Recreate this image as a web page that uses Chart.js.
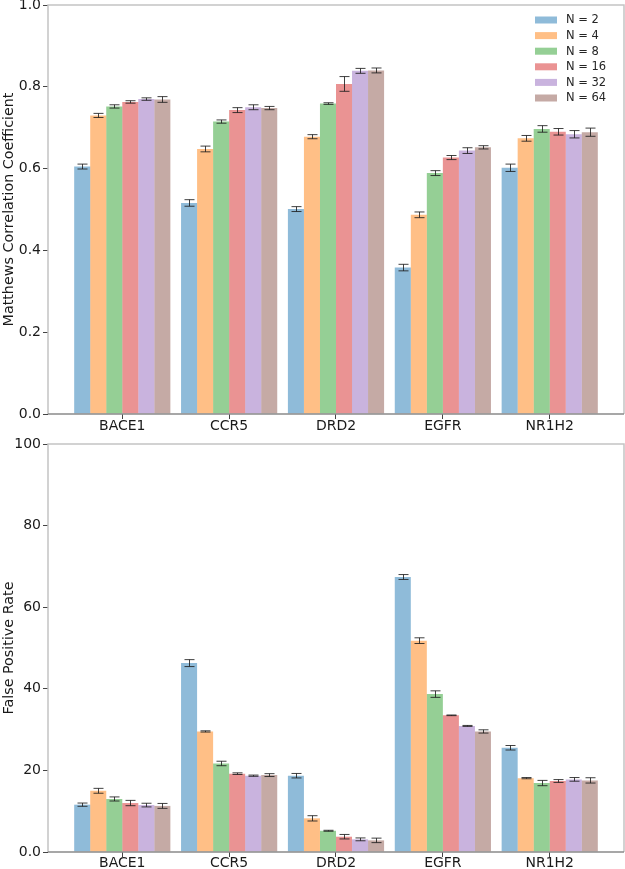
<!DOCTYPE html>
<html>
<head>
<meta charset="utf-8">
<script src="https://cdn.jsdelivr.net/npm/chart.js@4.4.1/dist/chart.umd.min.js"></script>
<style>
  html, body { margin: 0; padding: 0; background: #ffffff; }
  #wrap { position: relative; width: 625px; height: 869px; overflow: hidden; }
  #c1 { position: absolute; left: 0; top: 0; }
  #c2 { position: absolute; left: 0; top: 432px; }
</style>
</head>
<body>
<div id="wrap">
  <canvas id="c1" width="625" height="432"></canvas>
  <canvas id="c2" width="625" height="437"></canvas>
</div>
<script>
// ---------- data ----------
const categories = ['BACE1', 'CCR5', 'DRD2', 'EGFR', 'NR1H2'];
const seriesLabels = ['N = 2', 'N = 4', 'N = 8', 'N = 16', 'N = 32', 'N = 64'];

// Matthews Correlation Coefficient (means)
const mccN2  = [0.605, 0.516, 0.501, 0.358, 0.602];
const mccN4  = [0.730, 0.648, 0.678, 0.487, 0.674];
const mccN8  = [0.752, 0.715, 0.759, 0.589, 0.697];
const mccN16 = [0.763, 0.743, 0.807, 0.627, 0.690];
const mccN32 = [0.770, 0.750, 0.839, 0.644, 0.684];
const mccN64 = [0.769, 0.748, 0.840, 0.652, 0.689];
// MCC error half-widths
const mccErrN2  = [0.006, 0.008, 0.006, 0.008, 0.009];
const mccErrN4  = [0.005, 0.007, 0.005, 0.007, 0.007];
const mccErrN8  = [0.004, 0.004, 0.002, 0.006, 0.008];
const mccErrN16 = [0.003, 0.006, 0.018, 0.005, 0.008];
const mccErrN32 = [0.003, 0.006, 0.006, 0.007, 0.009];
const mccErrN64 = [0.007, 0.004, 0.006, 0.004, 0.010];

// False Positive Rate (means)
const fprN2  = [11.6, 46.3, 18.7, 67.4, 25.55];
const fprN4  = [15.0, 29.55, 8.25, 51.8, 18.1];
const fprN8  = [13.0, 21.7, 5.2, 38.7, 16.9];
const fprN16 = [12.0, 19.2, 3.75, 33.5, 17.4];
const fprN32 = [11.5, 18.7, 3.1, 30.9, 17.8];
const fprN64 = [11.3, 18.85, 2.85, 29.55, 17.55];
// FPR error half-widths
const fprErrN2  = [0.4, 0.85, 0.55, 0.6, 0.55];
const fprErrN4  = [0.6, 0.15, 0.65, 0.7, 0.15];
const fprErrN8  = [0.5, 0.55, 0.12, 0.8, 0.65];
const fprErrN16 = [0.65, 0.2, 0.55, 0.08, 0.35];
const fprErrN32 = [0.45, 0.15, 0.35, 0.12, 0.45];
const fprErrN64 = [0.6, 0.35, 0.55, 0.4, 0.65];

const mccTicks = [0, 0.2, 0.4, 0.6, 0.8, 1.0];
const fprTicks = [0, 20, 40, 60, 80, 100];

// ---------- styling ----------
const seriesColors = [
  'rgba(31,119,180,0.5)',
  'rgba(255,127,14,0.5)',
  'rgba(44,160,44,0.5)',
  'rgba(214,39,40,0.5)',
  'rgba(148,103,189,0.5)',
  'rgba(140,86,75,0.5)'
];
const FONT = "'DejaVu Sans', 'Liberation Sans', sans-serif";

function buildDatasets(means, errs) {
  return means.map((arr, s) => ({
    label: seriesLabels[s],
    data: arr.map((v, i) => ({ x: i, y: v })),
    errors: errs[s],
    backgroundColor: seriesColors[s],
    borderWidth: 0,
    categoryPercentage: 0.9,
    barPercentage: 1.0
  }));
}

const errorBarPlugin = {
  id: 'errorBars',
  afterDatasetsDraw(chart) {
    const ctx = chart.ctx;
    const yScale = chart.scales.y;
    ctx.save();
    ctx.strokeStyle = 'rgba(30,30,30,0.85)';
    ctx.lineWidth = 1;
    chart.data.datasets.forEach((ds, di) => {
      const meta = chart.getDatasetMeta(di);
      meta.data.forEach((el, j) => {
        const v = ds.data[j].y;
        const e = ds.errors[j];
        const x = Math.round(el.x) + 0.5;
        const yt = yScale.getPixelForValue(v + e);
        const yb = yScale.getPixelForValue(v - e);
        const cap = 5;
        ctx.beginPath();
        ctx.moveTo(x, yt); ctx.lineTo(x, yb);
        ctx.moveTo(x - cap, yt); ctx.lineTo(x + cap, yt);
        ctx.moveTo(x - cap, yb); ctx.lineTo(x + cap, yb);
        ctx.stroke();
      });
    });
    ctx.restore();
  }
};

const frameplugin = {
  id: 'frame',
  afterDatasetsDraw(chart) {
    const a = chart.chartArea;
    const ctx = chart.ctx;
    ctx.save();
    ctx.lineWidth = 1.5;
    ctx.strokeStyle = '#c4c4c4';
    ctx.beginPath();
    ctx.moveTo(a.left, a.bottom); ctx.lineTo(a.left, a.top);
    ctx.lineTo(a.right, a.top); ctx.lineTo(a.right, a.bottom);
    ctx.stroke();
    ctx.strokeStyle = '#8a8a8a';
    ctx.beginPath();
    ctx.moveTo(a.left, a.bottom); ctx.lineTo(a.right, a.bottom);
    ctx.stroke();
    ctx.restore();
  }
};

const legendInsidePlugin = {
  id: 'legendInside',
  afterDraw(chart, args, opts) {
    if (!opts || !opts.show) return;
    const a = chart.chartArea;
    const ctx = chart.ctx;
    ctx.save();
    ctx.font = '11.5px ' + FONT;
    ctx.textBaseline = 'middle';
    ctx.textAlign = 'left';
    chart.data.datasets.forEach((ds, i) => {
      const yc = a.top + 15 + i * 15.6;
      ctx.fillStyle = ds.backgroundColor;
      ctx.fillRect(a.right - 89, yc - 3.5, 22, 7);
      ctx.fillStyle = '#262626';
      ctx.fillText(ds.label, a.right - 58, yc + 0.5);
    });
    ctx.restore();
  }
};

function makeChart(canvasId, means, errs, yMax, yTicks, yTitle, tickFmt, padTop, xHeight, xPad, showLegend) {
  return new Chart(document.getElementById(canvasId), {
    type: 'bar',
    data: { datasets: buildDatasets(means, errs) },
    plugins: [frameplugin, errorBarPlugin, legendInsidePlugin],
    options: {
      responsive: false,
      animation: false,
      devicePixelRatio: 1,
      layout: { padding: { top: padTop, right: 1, left: 0, bottom: 0 } },
      plugins: {
        legend: { display: false },
        tooltip: { enabled: false },
        legendInside: { show: showLegend }
      },
      scales: {
        x: {
          type: 'linear',
          min: -0.695,
          max: 4.695,
          offset: false,
          border: { display: false },
          grid: { display: true, offset: false, drawOnChartArea: false, drawTicks: true, tickLength: 5, tickColor: '#444', tickWidth: 1 },
          ticks: {
            autoSkip: false,
            maxRotation: 0,
            padding: xPad,
            color: '#1a1a1a',
            font: { family: FONT, size: 14 },
            callback: (v) => categories[v]
          },
          afterBuildTicks: (scale) => { scale.ticks = categories.map((_, i) => ({ value: i })); },
          afterFit: (scale) => {
            scale.height = xHeight;
            scale.paddingLeft = 0; scale.paddingRight = 0;
          }
        },
        y: {
          min: 0,
          max: yMax,
          border: { display: false },
          grid: { display: true, drawOnChartArea: false, drawTicks: true, tickLength: 5, tickColor: '#444', tickWidth: 1 },
          ticks: {
            padding: 2,
            color: '#1a1a1a',
            font: { family: FONT, size: 14 },
            callback: tickFmt
          },
          afterBuildTicks: (scale) => { scale.ticks = yTicks.map(v => ({ value: v })); },
          title: {
            display: true,
            text: yTitle,
            color: '#1a1a1a',
            font: { family: FONT, size: 14.3 },
            padding: { top: 1, bottom: 0 }
          },
          afterFit: (scale) => {
            scale.width = 48;
            scale.paddingTop = 0; scale.paddingBottom = 0;
          }
        }
      }
    }
  });
}

makeChart('c1',
  [mccN2, mccN4, mccN8, mccN16, mccN32, mccN64],
  [mccErrN2, mccErrN4, mccErrN8, mccErrN16, mccErrN32, mccErrN64],
  1.0, mccTicks, 'Matthews Correlation Coefficient',
  (v) => Number(v).toFixed(1), 5, 18, -1, true);

makeChart('c2',
  [fprN2, fprN4, fprN8, fprN16, fprN32, fprN64],
  [fprErrN2, fprErrN4, fprErrN8, fprErrN16, fprErrN32, fprErrN64],
  100, fprTicks, 'False Positive Rate',
  (v) => (v === 0 ? '0.0' : String(Math.round(v))), 12, 17, -2, false);
</script>
</body>
</html>
